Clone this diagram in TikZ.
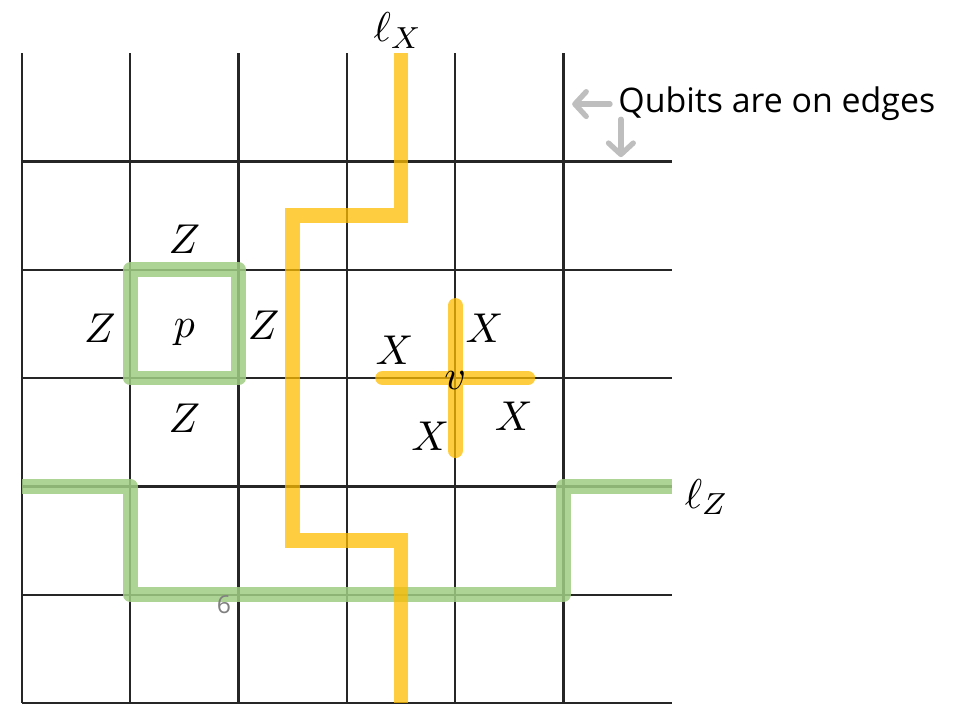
\documentclass[tikz,border=0pt]{standalone}
\usepackage{fontspec}
\setmainfont{Open Sans}
\usetikzlibrary{arrows.meta}

\definecolor{logyellow}{RGB}{255,188,0}
\definecolor{loggreen}{RGB}{160,205,130}
\definecolor{hintgray}{RGB}{190,190,190}

\begin{document}
\begin{tikzpicture}[
    lbl/.style={font=\fontsize{11}{13}\selectfont},
    xpath/.style={logyellow, opacity=0.75, line width=3.9pt},
    zpath/.style={loggreen, opacity=0.85, line width=3.9pt, line join=round},
    hint/.style={hintgray, line width=1.4pt, line cap=round,
      -{Straight Barb[length=3pt, width=6.5pt, round]}}
  ]
  \useasboundingbox (-0.203,-0.01) rectangle (8.652,6.491);

  % lattice, qubits on the edges
  \foreach \i in {0,...,5} {
    \draw[black!85, line width=0.6pt] (\i,0) -- (\i,6);
    \draw[black!85, line width=0.6pt] (0,\i) -- (6,\i);
  }

  % plaquette operator
  \draw[zpath] (1,3) rectangle (2,4);

  % logical operators
  \draw[zpath] (0,2) -- (1,2) -- (1,1) -- (5,1) -- (5,2) -- (6,2);
  \draw[xpath] (3.5,6) -- (3.5,4.5) -- (2.5,4.5) -- (2.5,1.5) -- (3.5,1.5) -- (3.5,0);

  % star operator
  \draw[xpath, line cap=round] (3.33,3) -- (4.67,3) (4,2.33) -- (4,3.67);

  % labels of the plaquette
  \node[lbl] (p) at (1.5,3.42) {$p$};
  \node[lbl] (zt) at (1.5,4.28) {$Z$};
  \node[lbl] (zl) at (0.72,3.46) {$Z$};
  \node[lbl] (zr) at (2.23,3.49) {$Z$};
  \node[lbl] (zb) at (1.5,2.63) {$Z$};

  % labels of the star
  \node[lbl] (v) at (4,2.98) {$v$};
  \node[lbl] (xtr) at (4.27,3.46) {$X$};
  \node[lbl] (xl) at (3.44,3.26) {$X$};
  \node[lbl] (xbr) at (4.54,2.65) {$X$};
  \node[lbl] (xbl) at (3.77,2.46) {$X$};

  \node[lbl] (lx) at (3.47,6.21) {$\ell_X$};
  \node[lbl] (lz) at (6.32,1.9) {$\ell_Z$};

  % stray page number
  \node[gray, font=\fontsize{6.5}{8}\selectfont] (pg) at (1.865,0.91) {6};

  % hint
  \node[anchor=west, inner sep=0pt, font=\fontsize{8.9}{11}\selectfont] (qubits) at (5.50,5.53) {Qubits are on edges};
  \coordinate (lefttip) at (5.08,5.53);
  \coordinate (downtail) at (5.53,5.39);
  \coordinate (downtip) at (5.53,5.04);
  \draw[hint] ([xshift=-2pt]qubits.west) -- (lefttip);
  \draw[hint] (downtail) -- (downtip);

\end{tikzpicture}
\end{document}
